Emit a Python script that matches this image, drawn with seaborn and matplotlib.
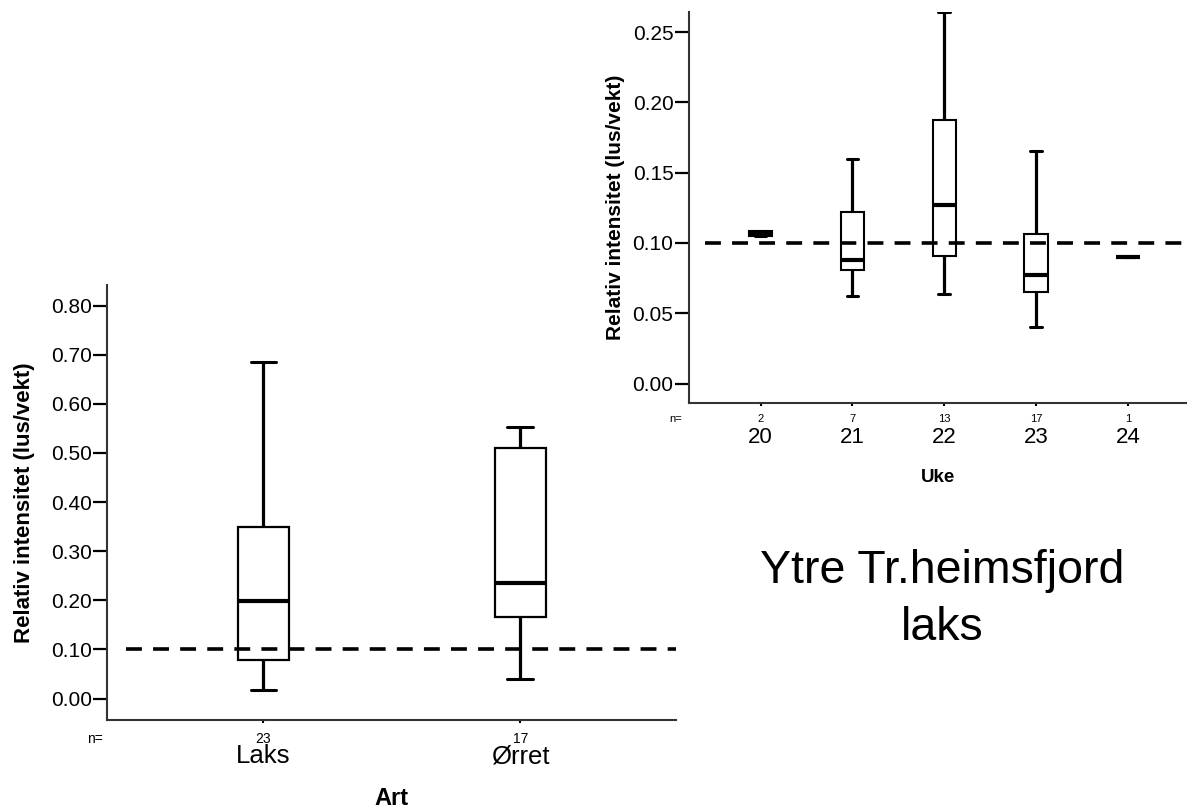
import numpy as np
import pandas as pd
import seaborn as sns
import matplotlib.pyplot as plt
from matplotlib.ticker import FormatStrFormatter, MultipleLocator

# --- data (five-number summaries) ---
art_labels = ['Laks', 'Ørret']
art_n = [23, 17]
art_min = [0.017, 0.040]
art_q1 = [0.078, 0.167]
art_median = [0.199, 0.235]
art_q3 = [0.350, 0.510]
art_max = [0.685, 0.552]

uke_labels = ['20', '21', '22', '23', '24']
uke_n = [2, 7, 13, 17, 1]
uke_min = [0.1048, 0.062, 0.0635, 0.040, 0.0897]
uke_q1 = [0.1048, 0.0807, 0.0908, 0.0651, 0.0897]
uke_median = [0.1065, 0.0882, 0.1267, 0.0774, 0.0897]
uke_q3 = [0.1082, 0.122, 0.1878, 0.1062, 0.0897]
uke_max = [0.1082, 0.160, 0.264, 0.1654, 0.0897]

grense = 0.10


def long_table(labels, *cols, name='gruppe'):
    rows = []
    for i, lab in enumerate(labels):
        for c in cols:
            rows.append({name: lab, 'verdi': c[i]})
    return pd.DataFrame(rows)


df_art = long_table(art_labels, art_min, art_q1, art_median, art_q3, art_max, name='Art')
df_uke = long_table(uke_labels, uke_min, uke_q1, uke_median, uke_q3, uke_max, name='Uke')

sns.set_style('ticks')
plt.rcParams['font.family'] = ['Liberation Sans', 'DejaVu Sans']
plt.rcParams['text.color'] = 'black'
plt.rcParams['axes.labelcolor'] = 'black'
plt.rcParams['xtick.color'] = 'black'
plt.rcParams['ytick.color'] = 'black'

fig = plt.figure(figsize=(11.87, 8.11), dpi=100)
ax1 = fig.add_axes([0.0901, 0.1116, 0.4794, 0.537])
ax2 = fig.add_axes([0.5802, 0.5025, 0.4198, 0.4831])


def spss_box(ax, df, x, order, width, lw):
    sns.boxplot(data=df, x=x, y='verdi', order=order, width=width,
                color='white', linecolor='black', linewidth=lw,
                whis=(0, 100), showfliers=False,
                medianprops={'linewidth': 3},
                whiskerprops={'linewidth': 2.3},
                capprops={'linewidth': 2.2},
                ax=ax)


def style_axis(ax, labels, counts, lab_size, cnt_size, pad, cnt_y, n_x):
    for s in ['top', 'right']:
        ax.spines[s].set_visible(False)
    for s in ['left', 'bottom']:
        ax.spines[s].set_color('#333333')
        ax.spines[s].set_linewidth(1.5)
    ax.yaxis.set_major_formatter(FormatStrFormatter('%.2f'))
    ax.tick_params(axis='y', direction='out', length=10, width=1.6,
                   color='black', labelcolor='black', labelsize=15, pad=1)
    ax.tick_params(axis='x', direction='out', length=2.2, width=1.5,
                   color='black', labelcolor='black', labelsize=lab_size, pad=pad)
    ax.set_xticks(range(len(labels)), labels=labels)
    tr = ax.get_xaxis_transform()
    for i, n in enumerate(counts):
        ax.text(i, cnt_y, str(n), transform=tr, ha='center', va='baseline',
                fontsize=cnt_size, color='black')
    ax.text(n_x, cnt_y, 'n=', transform=ax.transAxes, ha='center',
            va='baseline', fontsize=cnt_size, color='black')
    ax.axhline(grense, xmin=0.033, xmax=1, color='black', lw=2.6,
               ls=(0, (4.4, 3.1)), zorder=5)


# left panel: art
spss_box(ax1, df_art, 'Art', art_labels, 0.2, 1.6)
ax1.set_xlim(-0.609, 1.606)
ax1.set_ylim(-0.0446, 0.842)
ax1.yaxis.set_major_locator(MultipleLocator(0.10))
style_axis(ax1, art_labels, art_n, 18.5, 10, 15, -0.051, -0.021)
ax1.set_xlabel('Art', fontsize=17, fontweight='bold', color='black')
ax1.xaxis.set_label_coords(0.5, -0.153)
ax1.set_ylabel('Relativ intensitet (lus/vekt)', fontsize=16, fontweight='bold',
               color='black')
ax1.yaxis.set_label_coords(-0.1265, 0.5)

# right panel: uke
spss_box(ax2, df_uke, 'Uke', uke_labels, 0.256, 1.5)
ax2.set_xlim(-0.783, 4.642)
ax2.set_ylim(-0.0142, 0.2645)
ax2.set_yticks(np.arange(0, 0.26, 0.05))
style_axis(ax2, uke_labels, uke_n, 16, 8, 14.5, -0.0465, -0.026)
ax2.set_xlabel('Uke', fontsize=13.5, fontweight='bold', color='black')
ax2.xaxis.set_label_coords(0.5, -0.167)
ax2.set_ylabel('Relativ intensitet (lus/vekt)', fontsize=15, fontweight='bold',
               color='black')
ax2.yaxis.set_label_coords(-0.128, 0.5)

fig.text(942 / 1187, 1 - 583 / 811, 'Ytre Tr.heimsfjord', fontsize=33.5,
         ha='center', va='baseline', color='black')
fig.text(942 / 1187, 1 - 640 / 811, 'laks', fontsize=33.5,
         ha='center', va='baseline', color='black')

fig.savefig('out.png', dpi=100)
